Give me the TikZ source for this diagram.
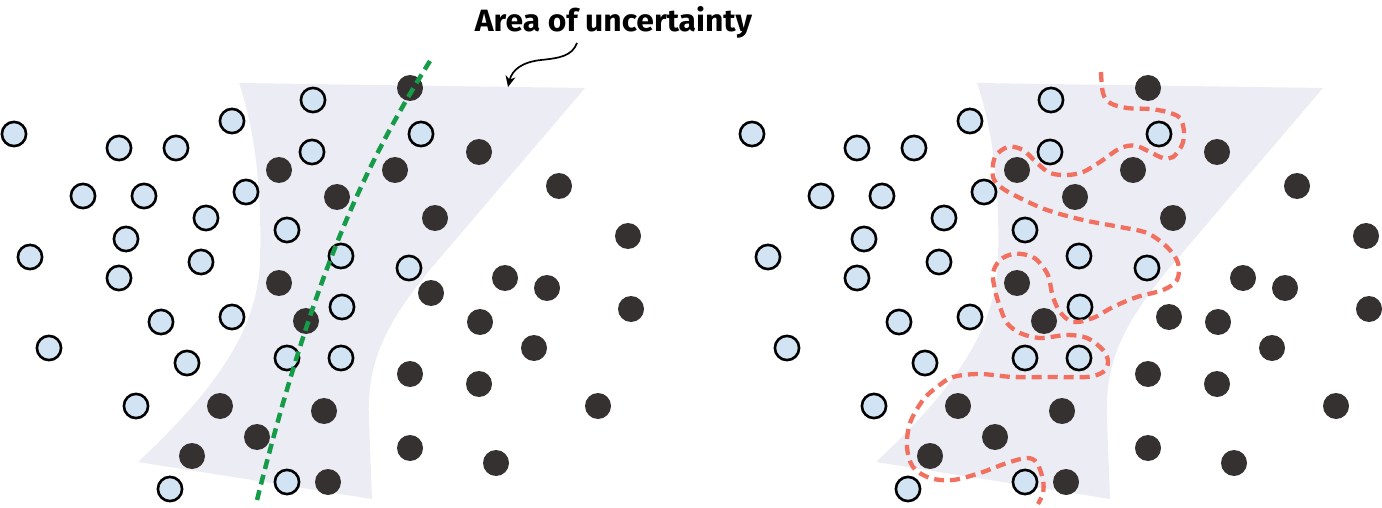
\documentclass[tikz,border=0pt]{standalone}
\usepackage{fontspec}
\newfontfamily\labelfont{Fira Sans}
\usetikzlibrary{arrows.meta}
\definecolor{areafill}{RGB}{236,236,244}
\definecolor{lightblue}{RGB}{210,228,243}
\definecolor{dotdark}{RGB}{53,49,48}
\definecolor{sepgreen}{RGB}{22,155,72}
\definecolor{sepred}{RGB}{242,112,96}
\begin{document}
\begin{tikzpicture}[x=1pt,y=-1pt,
  lightdot/.style={circle,draw=black,line width=2.6pt,fill=lightblue,minimum size=24.2pt,inner sep=0pt},
  darkdot/.style={circle,fill=dotdark,minimum size=26pt,inner sep=0pt},
  greenline/.style={draw=sepgreen,line width=4.5pt,dash pattern=on 10pt off 6pt},
  redline/.style={draw=sepred,line width=4.3pt,dash pattern=on 10pt off 6pt},
  callout/.style={-{Stealth[length=11pt,width=10pt]},line width=1.7pt,draw=black}
]
\useasboundingbox (0,0) rectangle (1382,508);

% shaded areas
\foreach \s in {0,738}{
  \begin{scope}[xshift=\s pt]
  \fill[areafill] (239,83) -- (585,88) -- (428,272)
     .. controls (388,322) and (366,360) .. (369,420) -- (372,499) -- (138,462)
     .. controls (215,390) and (258,330) .. (260,260)
     .. controls (262,190) and (255,130) .. (239,83) -- cycle;
  \end{scope}
}

% left panel
\foreach \x/\y [count=\i] in {313/100,232/121,14/134,119/148,176/148,312/152,421/134,83/196,144/196,246/192,206/218,126/239,287/230,30/257,201/262,341/256,409/268,119/278,161/322,232/317,342/307,49/348,187/363,287/358,341/358,136/406,287/482,170/489}
  \node[lightdot] (la\i) at (\x,\y) {};
\foreach \x/\y [count=\i] in {410/88,479/152,395/170,279/170,337/197,435/218,559/186,628/236,279/283,505/278,547/288,431/293,631/309,306/321,480/322,534/348,410/374,479/384,598/406,220/406,324/411,257/437,192/456,410/448,496/463,328/482}
  \node[darkdot] (da\i) at (\x,\y) {};

% right panel
\begin{scope}[xshift=738pt]
\foreach \x/\y [count=\i] in {313/100,232/121,14/134,119/148,176/148,312/152,421/134,83/196,144/196,246/192,206/218,126/239,287/230,30/257,201/262,341/256,409/268,119/278,161/322,232/317,342/307,49/348,187/363,287/358,341/358,136/406,287/482,170/489}
  \node[lightdot] (lb\i) at (\x,\y) {};
\foreach \x/\y [count=\i] in {410/88,479/152,395/170,279/170,337/197,435/218,559/186,628/236,279/283,505/278,547/288,431/317,631/309,306/321,480/322,534/348,410/374,479/384,598/406,220/406,324/411,257/437,192/456,410/448,496/463,328/482}
  \node[darkdot] (db\i) at (\x,\y) {};
\end{scope}

% linear boundary
\draw[greenline] (430,61) .. controls (365,165) and (315,270) .. (257,500);

% overfitted boundary
\draw[redline] plot[smooth,tension=0.55] coordinates {
 (1101,72) (1103,93) (1110,103) (1127,108) (1150,109) (1167,112) (1180,118) (1184,132) (1182,145) (1173,157) (1163,158) (1150,152) (1137,146) (1127,146) (1117,150) (1100,162) (1083,172) (1067,175) (1050,173) (1037,163) (1023,150) (1008,147) (995,157) (993,177) (1002,188) (1020,198) (1047,210) (1083,220) (1120,227) (1147,233) (1167,247) (1178,263) (1177,280) (1163,290) (1137,297) (1113,307) (1093,318) (1073,322) (1060,312) (1053,297) (1050,283) (1047,273) (1037,260) (1027,255) (1013,254) (1000,260) (993,273) (995,290) (1000,307) (1007,323) (1020,333) (1040,338) (1067,335) (1087,338) (1103,350) (1108,362) (1103,372) (1087,377) (1053,377) (1013,377) (980,374) (953,377) (937,387) (923,400) (910,423) (907,447) (913,467) (930,478) (953,480) (980,473) (1007,463) (1027,458) (1037,463) (1043,480) (1043,493) (1038,504)};

% label and callout
\node[anchor=base,inner sep=0pt] (label) at (613.5,32) {\resizebox{277pt}{25pt}{\labelfont\bfseries Area of uncertainty}};
\coordinate (calloutstart) at (577,43);
\coordinate (calloutend) at (508,87);
\draw[callout] (calloutstart) .. controls (572,56) and (560,58) .. (541,60)
   .. controls (522,62) and (512,70) .. (calloutend);
\end{tikzpicture}
\end{document}
